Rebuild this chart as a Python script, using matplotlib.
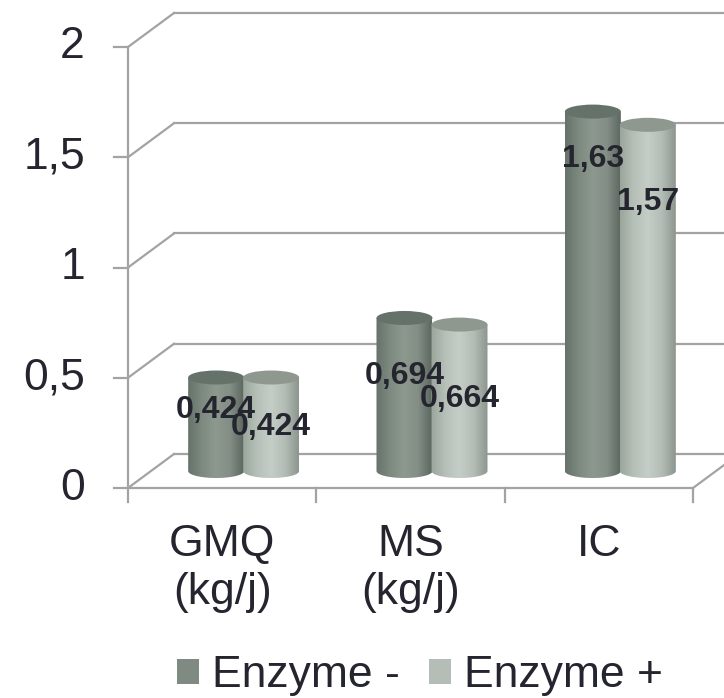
import numpy as np
import matplotlib
matplotlib.use("Agg")
import matplotlib.pyplot as plt
from matplotlib.patches import Ellipse, PathPatch, Patch
from matplotlib.path import Path
from matplotlib.colors import LinearSegmentedColormap

plt.rcParams['font.family'] = ['Liberation Sans', 'DejaVu Sans']

categories = ["GMQ\n(kg/j)", "MS\n(kg/j)", "IC"]
series = ["Enzyme -", "Enzyme +"]
enzyme_minus = [0.424, 0.694, 1.63]
enzyme_plus = [0.424, 0.664, 1.57]
value_labels = [["0,424", "0,694", "1,63"], ["0,424", "0,664", "1,57"]]
yticks = [0, 0.5, 1, 1.5, 2]
ytick_labels = ["0", "0,5", "1", "1,5", "2"]

# where Excel dropped the data labels (value units)
label_y = [[0.354, 0.508, 1.492], [0.277, 0.404, 1.297]]

# colours
body_stops = [
    ["#66726a", "#7d8a80", "#8d998f", "#838f86", "#5c675f"],
    ["#9aa59c", "#b6c0b8", "#c5cdc7", "#b3bcb5", "#8c968e"],
]
top_cols = ["#65726a", "#8e988f"]
legend_cols = ["#7f8b82", "#b4bdb6"]
grid_col = "#a3a3a3"
text_col = "#25252f"

# scales: pixel per unit
px_x = 188.33
px_y = 220.5
depth_dx = 46 / px_x
depth_dy = 34 / px_y
half_w = 28 / px_x
ell_h = 7 / px_y
bar_off = [-29 / px_x, 26 / px_x]

fig = plt.figure(figsize=(7.24, 6.98), dpi=100)
ax = fig.add_axes([0, 0, 1, 1])
ax.set_xlim(-128 / px_x, (724 - 128) / px_x)
ax.set_ylim((488 - 698) / px_y, 488 / px_y)
ax.axis('off')

xmax = ax.get_xlim()[1]
ncat = len(categories)
lw = 1.6

# walls / gridlines
for v in yticks:
    ax.plot([0, depth_dx], [v, v + depth_dy], color=grid_col, lw=lw, zorder=1)
    ax.plot([depth_dx, xmax], [v + depth_dy, v + depth_dy], color=grid_col, lw=lw, zorder=1)
    ax.plot([-14 / px_x, 0], [v, v], color=grid_col, lw=lw, zorder=1)
ax.plot([0, 0], [0, yticks[-1]], color=grid_col, lw=lw, zorder=1)
ax.plot([0, ncat], [0, 0], color=grid_col, lw=lw, zorder=1)
ax.plot([ncat, ncat + depth_dx], [0, depth_dy], color=grid_col, lw=lw, zorder=1)
for i in range(ncat + 1):
    ax.plot([i, i], [0, -14 / px_y], color=grid_col, lw=lw, zorder=1)

# y tick labels
for v, t in zip(yticks, ytick_labels):
    ax.text(-43 / px_x, v, t, ha='right', va='center', fontsize=32, color=text_col)

# category labels
for i, c in enumerate(categories):
    ax.text(i + 0.5, -36 / px_y, c, ha='center', va='top', fontsize=32,
            color=text_col, linespacing=1.22)


def cylinder(xc, value, stops, top_col, z):
    base = depth_dy / 2
    top = base + value
    t = np.linspace(np.pi, 2 * np.pi, 60)
    bx = xc + half_w * np.cos(t)
    by = base + ell_h * np.sin(t)
    verts = [(xc - half_w, top)] + list(zip(bx, by)) + [(xc + half_w, top), (xc - half_w, top)]
    codes = [Path.MOVETO] + [Path.LINETO] * (len(verts) - 2) + [Path.CLOSEPOLY]
    clip = PathPatch(Path(verts, codes), facecolor='none', edgecolor='none')
    ax.add_patch(clip)
    cmap = LinearSegmentedColormap.from_list("c", stops)
    grad = np.linspace(0, 1, 256).reshape(1, -1)
    im = ax.imshow(grad, cmap=cmap, aspect='auto', interpolation='bilinear',
                   extent=(xc - half_w, xc + half_w, base - ell_h, top), zorder=z)
    im.set_clip_path(clip)
    ax.add_patch(Ellipse((xc, top), 2 * half_w, 2 * ell_h, facecolor=top_col,
                         edgecolor='none', zorder=z + 0.1))


data = [enzyme_minus, enzyme_plus]
for i in range(ncat):
    for s in range(2):
        xc = i + 0.5 + depth_dx / 2 + bar_off[s]
        cylinder(xc, data[s][i], body_stops[s], top_cols[s], 3 + i + s * 0.5)

for i in range(ncat):
    for s in range(2):
        xc = i + 0.5 + depth_dx / 2 + bar_off[s]
        ax.text(xc, label_y[s][i], value_labels[s][i], ha='center', va='center',
                fontsize=23, fontweight='bold', color=text_col, zorder=20)

ax.set_ylim((488 - 698) / px_y, 488 / px_y)
ax.set_xlim(-128 / px_x, (724 - 128) / px_x)

handles = [Patch(facecolor=legend_cols[k], edgecolor='none') for k in range(2)]
fig.legend(handles, series, loc='center', bbox_to_anchor=(420 / 724, 1 - 676 / 698),
           ncol=2, frameon=False, fontsize=32, handlelength=0.5, handleheight=0.5,
           handletextpad=0.3, columnspacing=0.65, labelcolor=text_col,
           borderpad=0, borderaxespad=0)

fig.savefig("out.png", dpi=100)
